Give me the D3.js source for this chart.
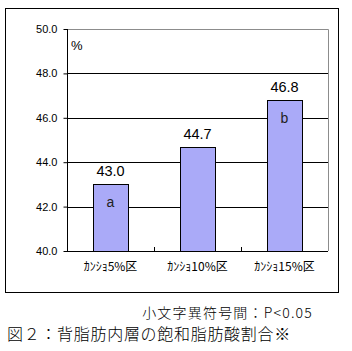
<!DOCTYPE html>
<html>
<head>
<meta charset="utf-8">
<script src="https://cdn.jsdelivr.net/npm/d3@7"></script>
<style>
  body { margin: 0; background: #fff; }
  svg { display: block; }
</style>
</head>
<body>
<div id="chart"></div>
<script>
let categories = ['ｶﾝｼｮ5%区', 'ｶﾝｼｮ10%区', 'ｶﾝｼｮ15%区'];
let values = [43.0, 44.7, 46.8];
let letters = ['a', '', 'b'];
let yTicks = [40, 42, 44, 46, 48, 50];

let width = 352;
let height = 351;
let plot = {left: 67, top: 29, right: 328, bottom: 251};

let svg = d3.select('#chart')
    .append('svg')
        .attr('width', width)
        .attr('height', height);

// outer frame
svg.append('rect')
    .attr('x', 5.5).attr('y', 8.5)
    .attr('width', 333).attr('height', 284)
    .attr('fill', 'none')
    .attr('stroke', '#000')
    .attr('stroke-width', 1);

let x = d3.scaleBand()
    .domain(categories)
    .range([plot.left, plot.right])
    .paddingInner(0.6)
    .paddingOuter(0.3);
let band = d3.scaleBand().domain(categories).range([plot.left, plot.right]);
let y = d3.scaleLinear().domain([40, 50]).range([plot.bottom, plot.top]);

// plot area frame (top/right grey)
svg.append('path')
    .attr('d', `M${plot.left},${plot.top + 0.5}H${plot.right + 0.5}V${plot.bottom}`)
    .attr('fill', 'none')
    .attr('stroke', '#8c8c8c');

// gridlines
svg.selectAll('.grid')
    .data(yTicks.filter(d => d > 40 && d < 50))
    .enter().append('line')
        .attr('x1', plot.left).attr('x2', plot.right)
        .attr('y1', d => Math.round(y(d)) + 0.5)
        .attr('y2', d => Math.round(y(d)) + 0.5)
        .attr('stroke', '#000');

// bars
svg.selectAll('.bar')
    .data(values)
    .enter().append('rect')
        .attr('class', 'bar')
        .attr('x', (d, i) => Math.round(x(categories[i])) + 0.5)
        .attr('width', Math.round(x.bandwidth()))
        .attr('y', d => Math.round(y(d)) + 0.5)
        .attr('height', d => Math.round(plot.bottom - y(d)))
        .attr('fill', '#aaaaf8')
        .attr('stroke', '#000');

// value labels
svg.selectAll('.val')
    .data(values)
    .enter().append('text')
        .attr('x', (d, i) => x(categories[i]) + x.bandwidth() / 2)
        .attr('y', d => y(d) - 8)
        .attr('text-anchor', 'middle')
        .attr('font-family', 'Liberation Sans, Arial, sans-serif')
        .attr('font-size', 14.5)
        .attr('font-weight', 'normal')
        .text(d => d.toFixed(1));

// significance letters
svg.selectAll('.sig')
    .data(values)
    .enter().append('text')
        .attr('x', (d, i) => x(categories[i]) + x.bandwidth() / 2)
        .attr('y', d => y(d) + 23)
        .attr('text-anchor', 'middle')
        .attr('font-family', 'Liberation Sans, Arial, sans-serif')
        .attr('font-size', 14)
        .attr('fill', '#222')
        .text((d, i) => letters[i]);

// y axis
let yAxis = svg.append('g')
    .attr('transform', `translate(${plot.left + 0.5},0)`)
    .call(d3.axisLeft(y).tickValues(yTicks).tickFormat(d3.format('.1f')).tickSize(4).tickPadding(6));
yAxis.select('.domain').attr('stroke', '#000').attr('d', `M0,${plot.top}V${plot.bottom}`);
yAxis.selectAll('text')
    .attr('font-family', 'Liberation Sans, Arial, sans-serif')
    .attr('font-size', 11)
    .attr('fill', '#000');

// x axis
let xAxis = svg.append('g')
    .attr('transform', `translate(0,${plot.bottom + 0.5})`)
    .call(d3.axisBottom(band).tickSize(0).tickPadding(11));
xAxis.select('.domain').attr('stroke', '#000').attr('d', `M${plot.left},0H${plot.right}`);
xAxis.selectAll('text')
    .attr('font-family', 'Noto Sans CJK JP, sans-serif')
    .attr('font-size', 12)
    .attr('fill', '#000');
// category boundary ticks
svg.selectAll('.xtick')
    .data(categories.slice(1))
    .enter().append('line')
        .attr('x1', d => Math.round(band(d)) + 0.5)
        .attr('x2', d => Math.round(band(d)) + 0.5)
        .attr('y1', plot.bottom - 4)
        .attr('y2', plot.bottom)
        .attr('stroke', '#000');

// unit
svg.append('text')
    .attr('x', 71).attr('y', 50)
    .attr('font-family', 'Liberation Sans, Arial, sans-serif')
    .attr('font-size', 13)
    .text('%');

// captions
svg.append('text')
    .attr('x', 313).attr('y', 318)
    .attr('text-anchor', 'end')
    .attr('font-family', 'Noto Sans CJK JP, sans-serif')
    .attr('font-weight', 300)
    .attr('font-size', 14)
    .attr('letter-spacing', 1.2)
    .text('小文字異符号間：P<0.05');
svg.append('text')
    .attr('x', 7).attr('y', 340)
    .attr('font-family', 'Noto Sans CJK JP, sans-serif')
    .attr('font-weight', 300)
    .attr('font-size', 16)
    .attr('letter-spacing', 0.7)
    .text('図２：背脂肪内層の飽和脂肪酸割合※');
</script>
</body>
</html>
